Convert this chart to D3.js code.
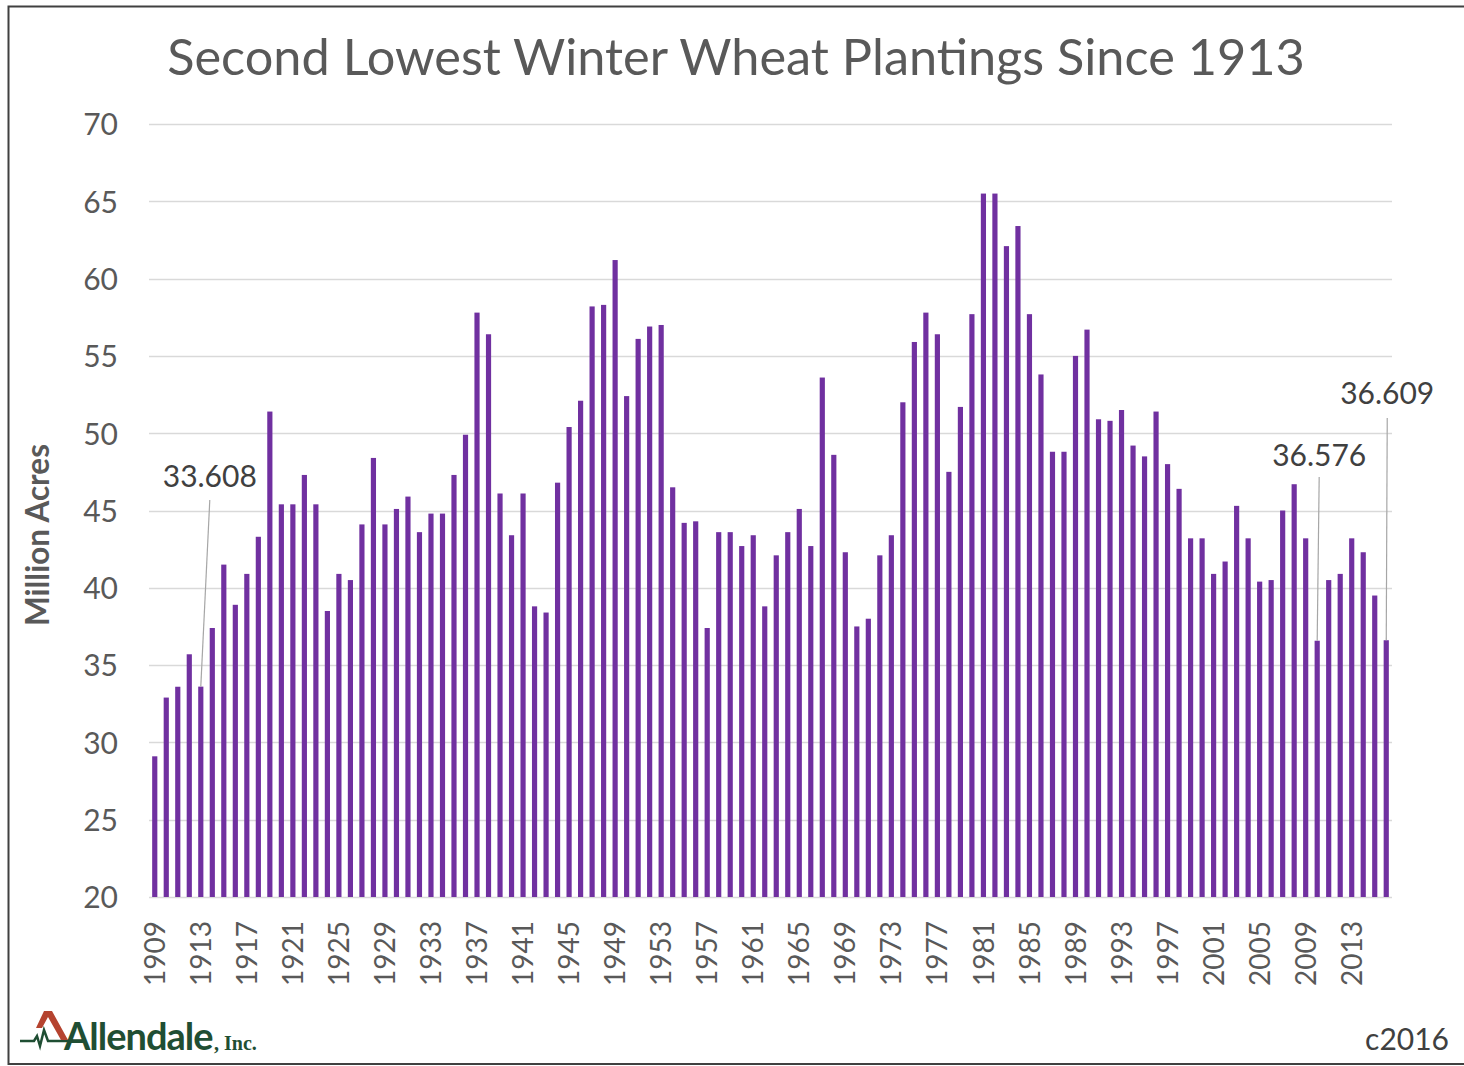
<!DOCTYPE html>
<html>
<head>
<meta charset="utf-8">
<script src="https://cdn.jsdelivr.net/npm/d3@7"></script>
<style>
  body { margin: 0; background: #fff; }
  svg { display: block; }
</style>
</head>
<body>
<div id="container"></div>
<script>
// chart data (million acres of winter wheat planted)
const years = d3.range(1909, 2017);
const acres = [
  29.1, 32.9, 33.6, 35.7, 33.608, 37.4, 41.5, 38.9, 40.9, 43.3,   // 1909-1918
  51.4, 45.4, 45.4, 47.3, 45.4, 38.5, 40.9, 40.5, 44.1, 48.4,     // 1919-1928
  44.1, 45.1, 45.9, 43.6, 44.8, 44.8, 47.3, 49.9, 57.8, 56.4,     // 1929-1938
  46.1, 43.4, 46.1, 38.8, 38.4, 46.8, 50.4, 52.1, 58.2, 58.3,     // 1939-1948
  61.2, 52.4, 56.1, 56.9, 57.0, 46.5, 44.2, 44.3, 37.4, 43.6,     // 1949-1958
  43.6, 42.7, 43.4, 38.8, 42.1, 43.6, 45.1, 42.7, 53.6, 48.6,     // 1959-1968
  42.3, 37.5, 38.0, 42.1, 43.4, 52.0, 55.9, 57.8, 56.4, 47.5,     // 1969-1978
  51.7, 57.7, 65.5, 65.5, 62.1, 63.4, 57.7, 53.8, 48.8, 48.8,     // 1979-1988
  55.0, 56.7, 50.9, 50.8, 51.5, 49.2, 48.5, 51.4, 48.0, 46.4,     // 1989-1998
  43.2, 43.2, 40.9, 41.7, 45.3, 43.2, 40.4, 40.5, 45.0, 46.7,     // 1999-2008
  43.2, 36.576, 40.5, 40.9, 43.2, 42.3, 39.5, 36.609              // 2009-2016
];
const yTicks = [20, 25, 30, 35, 40, 45, 50, 55, 60, 65, 70];
const labelYears = d3.range(1909, 2017, 4);
const calloutYears = [1913, 2010, 2016];

const title = "Second Lowest Winter Wheat Plantings Since 1913";
const yTitle = "Million Acres";
const credit = "c2016";

// layout
const width = 1464;
const height = 1066;
const plotLeft = 149, plotRight = 1392;
const plotTop = 124, plotBottom = 897;

const barColor = "#7030a0";
const textColor = "#595959";
const gridColor = "#d9d9d9";
const fontFamily = "Lato, 'Open Sans', sans-serif";

const data = years.map((y, i) => ({ year: y, value: acres[i] }));

const svg = d3.select("#container").append("svg")
  .attr("width", width)
  .attr("height", height);

// chart frame
svg.append("rect")
  .attr("x", 8.5).attr("y", 6.5)
  .attr("width", width + 20).attr("height", 1064 - 6.5)
  .attr("fill", "#fff")
  .attr("stroke", "#404040")
  .attr("stroke-width", 2);

const x = d3.scaleBand()
  .domain(years)
  .range([plotLeft, plotRight])
  .paddingInner(0.55)
  .paddingOuter(0.275);

const y = d3.scaleLinear()
  .domain([20, 70])
  .range([plotBottom, plotTop]);

// fit a text element to a target width by scaling its font size
function fitText(sel, target) {
  const node = sel.node();
  const fs = parseFloat(sel.attr("font-size"));
  const len = node.getComputedTextLength();
  sel.attr("font-size", fs * target / len);
}

// gridlines
svg.append("g")
  .selectAll("line")
  .data(yTicks)
  .join("line")
  .attr("x1", plotLeft).attr("x2", plotRight)
  .attr("y1", d => Math.round(y(d)) + 0.5)
  .attr("y2", d => Math.round(y(d)) + 0.5)
  .attr("stroke", gridColor)
  .attr("stroke-width", 1.5);

// y axis labels
const yAxis = svg.append("g")
  .attr("transform", `translate(${plotLeft - 31},0)`)
  .call(d3.axisLeft(y).tickValues(yTicks).tickSize(0).tickPadding(0));
yAxis.select(".domain").remove();
yAxis.selectAll("text")
  .attr("font-family", fontFamily)
  .attr("font-size", 30)
  .attr("fill", textColor)
  .attr("dy", "0.36em");

// bars
svg.append("g")
  .selectAll("rect")
  .data(data)
  .join("rect")
  .attr("x", d => x(d.year))
  .attr("width", x.bandwidth())
  .attr("y", d => y(d.value))
  .attr("height", d => y(20) - y(d.value))
  .attr("fill", barColor);

// x axis labels (rotated)
const xAxis = svg.append("g")
  .attr("transform", `translate(0,${plotBottom + 24})`)
  .call(d3.axisBottom(x).tickValues(labelYears).tickSize(0).tickPadding(0));
xAxis.select(".domain").remove();
xAxis.selectAll("text")
  .attr("font-family", fontFamily)
  .attr("font-size", 28)
  .attr("fill", textColor)
  .attr("text-anchor", "end")
  .attr("transform", "rotate(-90)")
  .attr("x", 0)
  .attr("y", 0)
  .attr("dx", 0)
  .attr("dy", "0.36em");

// callouts with leader lines
const calloutPos = {
  1913: { dx: 9, ty: 487, ly: 500 },
  2010: { dx: 2, ty: 466, ly: 477 },
  2016: { dx: 1, ty: 404, ly: 418 }
};
const callouts = svg.append("g")
  .selectAll("g")
  .data(data.filter(d => calloutYears.includes(d.year)))
  .join("g");

callouts.append("line")
  .attr("x1", d => x(d.year) + x.bandwidth() / 2 + calloutPos[d.year].dx)
  .attr("y1", d => calloutPos[d.year].ly)
  .attr("x2", d => x(d.year) + x.bandwidth() / 2)
  .attr("y2", d => y(d.value))
  .attr("stroke", "#a6a6a6")
  .attr("stroke-width", 1.2);

callouts.append("text")
  .attr("x", d => x(d.year) + x.bandwidth() / 2 + calloutPos[d.year].dx)
  .attr("y", d => calloutPos[d.year].ty)
  .attr("text-anchor", "middle")
  .attr("font-family", fontFamily)
  .attr("font-size", 30)
  .attr("fill", "#404040")
  .text(d => d3.format(".3f")(d.value));

// title
const titleText = svg.append("text")
  .attr("x", 736)
  .attr("y", 75)
  .attr("text-anchor", "middle")
  .attr("font-family", fontFamily)
  .attr("font-size", 50)
  .attr("fill", textColor)
  .text(title);
fitText(titleText, 1138);

// y axis title
const yTitleText = svg.append("text")
  .attr("transform", "translate(49,535) rotate(-90)")
  .attr("text-anchor", "middle")
  .attr("font-family", fontFamily)
  .attr("font-weight", "bold")
  .attr("font-size", 26)
  .attr("fill", textColor)
  .text(yTitle);
fitText(yTitleText, 182);

// credit
svg.append("text")
  .attr("x", 1449)
  .attr("y", 1050)
  .attr("text-anchor", "end")
  .attr("font-family", fontFamily)
  .attr("font-size", 30)
  .attr("fill", "#404040")
  .text(credit);

// logo
const logo = svg.append("g");
logo.append("path")
  .attr("d", "M20,1041 L34,1041 L37,1036 L40,1046 L44,1030 L48,1041 L72,1041")
  .attr("fill", "none")
  .attr("stroke", "#1f4e33")
  .attr("stroke-width", 2.5);
logo.append("path")
  .attr("d", "M36,1028 L44,1011 L52,1011 L68,1040 L61,1040 L48,1017 L42,1028 Z")
  .attr("fill", "#b5432f");
const logoText = logo.append("text")
  .attr("x", 64)
  .attr("y", 1050)
  .attr("font-family", fontFamily)
  .attr("font-weight", "bold")
  .attr("font-size", 36)
  .attr("fill", "#1f4e33")
  .attr("letter-spacing", -1)
  .text("Allendale");
fitText(logoText, 148);
logo.append("text")
  .attr("x", 214)
  .attr("y", 1050)
  .attr("font-family", "'Liberation Serif', serif")
  .attr("font-weight", "bold")
  .attr("font-size", 20)
  .attr("fill", "#1f4e33")
  .text(", Inc.");
</script>
</body>
</html>
